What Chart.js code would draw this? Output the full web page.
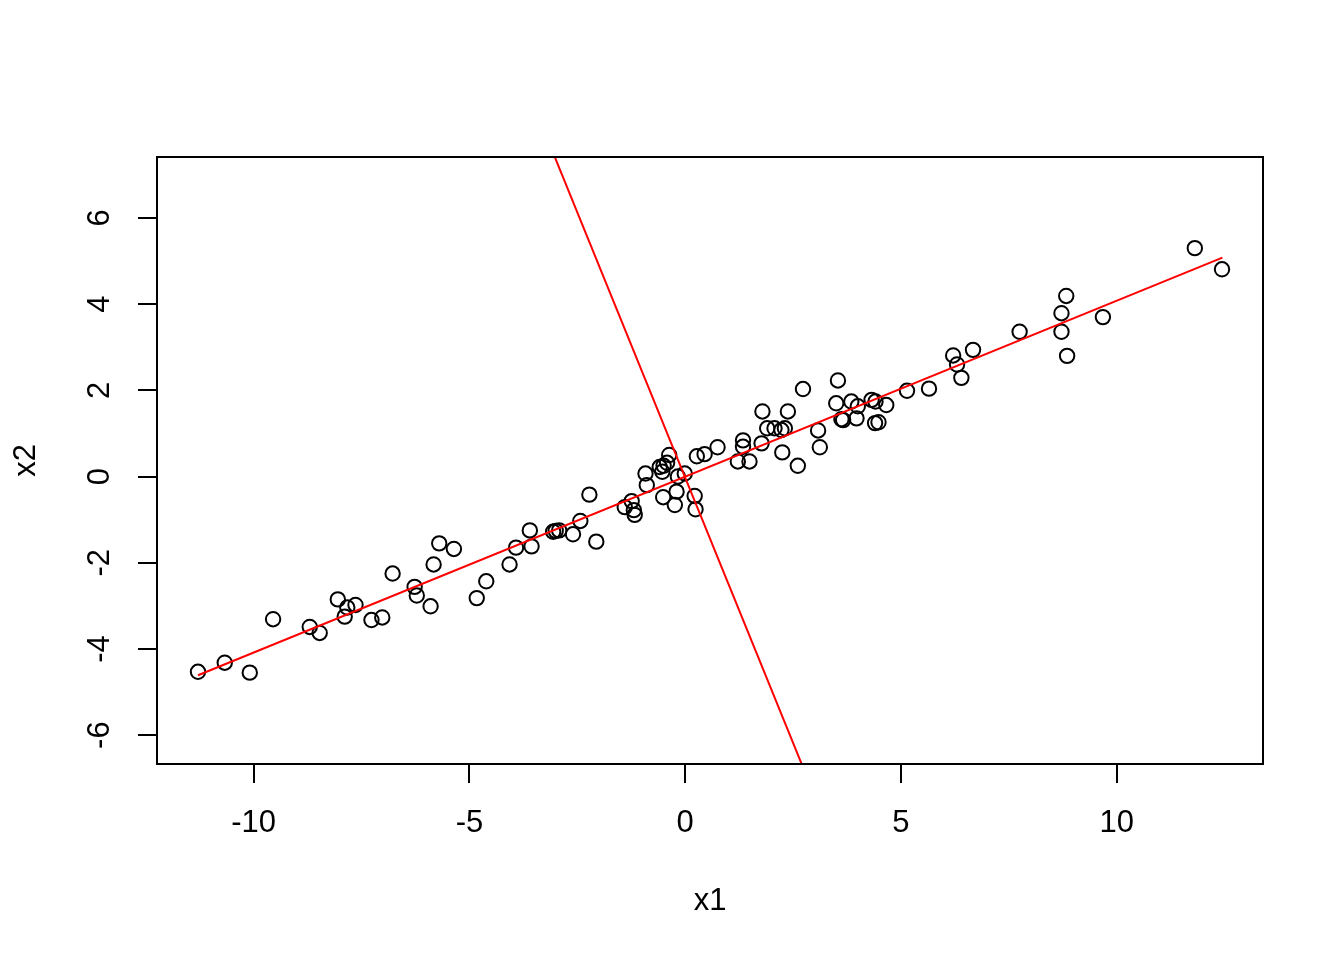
<!DOCTYPE html>
<html>
<head>
<meta charset="utf-8">
<title>x1 vs x2</title>
<script src="https://cdn.jsdelivr.net/npm/chart.js@4.4.0/dist/chart.umd.min.js"></script>
<style>
    html, body { margin: 0; padding: 0; background: #fff; }
    #chart { display: block; }
</style>
</head>
<body>
<canvas id="chart" width="1344" height="960"></canvas>
<script>
// Observed points
const x1 = [
    -11.29, -10.67, -10.09, -9.55, -8.70, -8.47, -8.05, -7.83, -7.64, -7.89,
    -7.27, -7.02, -6.78, -6.27, -6.22, -5.90, -5.83, -5.70, -5.36, -4.83,
    -4.61, -4.07, -3.92, -3.60, -3.56, -3.06, -3.00, -2.92, -2.60, -2.43,
    -2.22, -2.06, -1.40, -1.24, -1.19, -1.17, -0.92, -0.89, -0.59, -0.50,
    -0.42, -0.37, -0.53, -0.17, -0.01, -0.51, -0.24, -0.20, 0.22, 0.24,
    0.27, 0.45, 0.75, 1.34, 1.34, 1.22, 1.49, 1.77, 1.79, 1.90,
    2.07, 2.23, 2.31, 2.38, 2.25, 2.61, 2.73, 3.08, 3.12, 3.54,
    3.50, 3.62, 3.66, 3.85, 4.00, 3.97, 4.32, 4.41, 4.66, 4.40,
    4.48, 5.14, 5.65, 6.21, 6.30, 6.40, 6.67, 7.75, 8.72, 8.83,
    8.72, 8.85, 9.68, 11.81, 12.44
];
const x2 = [
    -4.53, -4.32, -4.55, -3.31, -3.49, -3.63, -2.85, -3.04, -2.98, -3.25,
    -3.33, -3.27, -2.25, -2.56, -2.76, -3.01, -2.04, -1.55, -1.68, -2.82,
    -2.43, -2.04, -1.65, -1.25, -1.62, -1.28, -1.26, -1.25, -1.34, -1.03,
    -0.42, -1.51, -0.71, -0.57, -0.78, -0.89, 0.07, -0.20, 0.22, 0.25,
    0.32, 0.50, 0.11, 0.00, 0.07, -0.48, -0.66, -0.35, -0.45, -0.76,
    0.47, 0.52, 0.68, 0.84, 0.69, 0.35, 0.35, 0.77, 1.51, 1.12,
    1.12, 1.08, 1.12, 1.51, 0.56, 0.25, 2.03, 1.07, 0.68, 2.23,
    1.70, 1.33, 1.31, 1.74, 1.63, 1.35, 1.78, 1.74, 1.66, 1.24,
    1.26, 1.99, 2.04, 2.81, 2.60, 2.29, 2.94, 3.36, 3.79, 4.19,
    3.36, 2.80, 3.70, 5.30, 4.81
];

// Principal directions (red lines)
const pc1X = [-11.29, 12.45];
const pc1Y = [-4.61, 5.08];
const pc2X = [-3.3, 3.0];
const pc2Y = [8.10, -7.41];

// Axes
const xTicks = [-10, -5, 0, 5, 10];
const yTicks = [-6, -4, -2, 0, 2, 4, 6];
const xRange = [-12.24, 13.39];
const yRange = [-6.67, 7.415];

function toPoints(xs, ys) {
    return xs.map((x, i) => ({ x: x, y: ys[i] }));
}

// Box around the plot region, like R's box()
const plotBox = {
    id: 'plotBox',
    afterDraw(chart) {
        const a = chart.chartArea;
        const ctx = chart.ctx;
        ctx.save();
        ctx.strokeStyle = '#000';
        ctx.lineWidth = 2;
        ctx.strokeRect(a.left, a.top, a.right - a.left, a.bottom - a.top);
        ctx.restore();
    }
};

document.addEventListener('DOMContentLoaded', function() {
    Chart.defaults.font.family = '"Liberation Sans", Arial, sans-serif';
    Chart.defaults.font.size = 31;
    Chart.defaults.color = '#000';

    const lineStyle = {
        showLine: true,
        borderColor: '#FF0000',
        borderWidth: 2,
        pointRadius: 0,
        fill: false
    };

    new Chart(document.getElementById('chart'), {
        type: 'scatter',
        data: {
            datasets: [
                Object.assign({ data: toPoints(pc1X, pc1Y) }, lineStyle),
                Object.assign({ data: toPoints(pc2X, pc2Y) }, lineStyle),
                {
                    data: toPoints(x1, x2),
                    pointStyle: 'circle',
                    pointRadius: 7.2,
                    borderWidth: 2,
                    borderColor: '#000',
                    backgroundColor: 'rgba(0,0,0,0)'
                }
            ]
        },
        options: {
            responsive: false,
            animation: false,
            layout: { padding: { top: 157, right: 81, left: 0, bottom: 0 } },
            plugins: {
                legend: { display: false },
                tooltip: { enabled: false }
            },
            scales: {
                x: {
                    type: 'linear',
                    min: xRange[0],
                    max: xRange[1],
                    afterBuildTicks: s => { s.ticks = xTicks.map(v => ({ value: v })); },
                    afterFit: s => { s.height = 196; },
                    ticks: { padding: 22, maxRotation: 0, callback: v => String(v) },
                    grid: { drawOnChartArea: false, tickLength: 19, color: '#000', lineWidth: 2 },
                    border: { display: false },
                    title: { display: true, text: 'x1', padding: { top: 0, bottom: 40 } }
                },
                y: {
                    type: 'linear',
                    min: yRange[0],
                    max: yRange[1],
                    afterBuildTicks: s => { s.ticks = yTicks.map(v => ({ value: v })); },
                    afterFit: s => { s.width = 157; },
                    ticks: { padding: 24, minRotation: 90, maxRotation: 90, crossAlign: 'center', callback: v => String(v) },
                    grid: { drawOnChartArea: false, tickLength: 19, color: '#000', lineWidth: 2 },
                    border: { display: false },
                    title: { display: true, text: 'x2', padding: { top: 8, bottom: 0 } }
                }
            }
        },
        plugins: [plotBox]
    });
});
</script>
</body>
</html>
